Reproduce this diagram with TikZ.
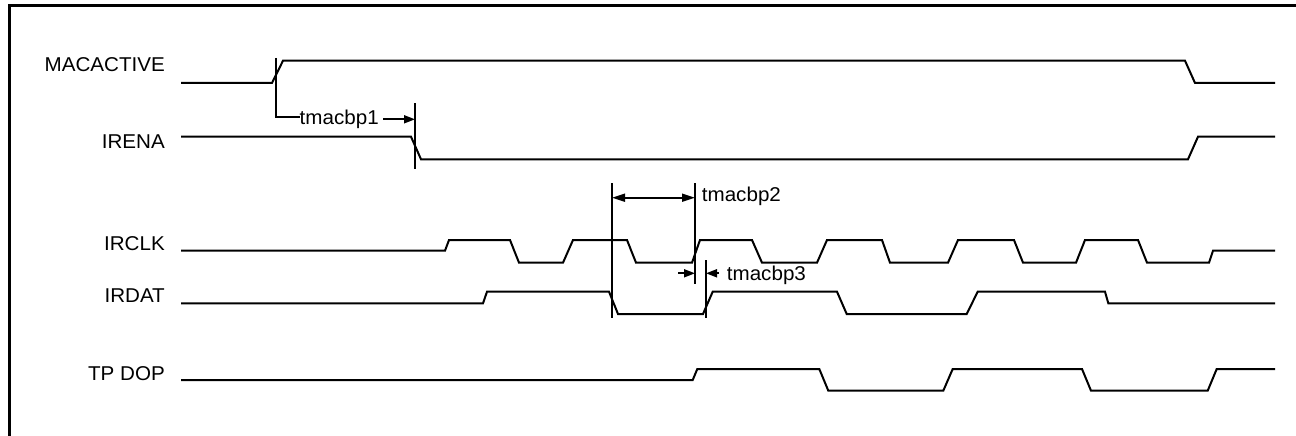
\documentclass[tikz,border=0pt]{standalone}
\usepackage{fontspec}
\setmainfont{Liberation Sans}[FakeStretch=1.03]
\usetikzlibrary{arrows.meta}
\tikzset{
  sig/.style={line width=2pt, line join=miter},
  markline/.style={line width=1.8pt},
  lbl/.style={inner sep=0pt, font=\fontsize{20}{24}\selectfont},
  dimarrow/.style={line width=1.8pt, -{Triangle[length=11pt,width=8pt]}},
  dimboth/.style={line width=1.8pt, {Triangle[length=13pt,width=8pt]}-{Triangle[length=13pt,width=8pt]}},
  frameline/.style={line width=2.8pt}
}
\begin{document}
\begin{tikzpicture}[x=1pt,y=-1pt]
\useasboundingbox (0,0) rectangle (1296,436);
% frame
\draw[frameline] (9.5,436) -- (9.5,5.5) -- (1296,5.5);

% labels
\node[lbl, anchor=base east] (lmac) at (165,71) {MACACTIVE};
\node[lbl, anchor=base east] (lirena) at (165,148.3) {IRENA};
\node[lbl, anchor=base east] (lirclk) at (165,250.7) {IRCLK};
\node[lbl, anchor=base east] (lirdat) at (165,302.7) {IRDAT};
\node[lbl, anchor=base east] (ltp) at (165,380) {TP DOP};

% waveforms
\draw[sig] (181,83) -- (272,83) -- (283,60.7) -- (1185,60.7) -- (1195,83) -- (1275,83);
\draw[sig] (181,136.7) -- (411,136.7) -- (421,159.3) -- (1188,159.3) -- (1198,136.7) -- (1275,136.7);
\draw[sig] (181,250.7) -- (445,250.7) -- (449,240) -- (510,240) -- (519,262.7) -- (563,262.7)
  -- (573,240) -- (627,240) -- (636,262.7) -- (692,262.7) -- (700,240) -- (752,240)
  -- (762,262.7) -- (817,262.7) -- (827,240) -- (882,240) -- (890,262.7) -- (948,262.7)
  -- (958,240) -- (1014,240) -- (1023,262.7) -- (1076,262.7) -- (1085,240) -- (1138,240)
  -- (1147,262.7) -- (1209,262.7) -- (1213,250.7) -- (1275,250.7);
\draw[sig] (181,303.3) -- (483,303.3) -- (487,291.7) -- (609,291.7) -- (618,314) -- (703,314)
  -- (712.7,291.7) -- (837,291.7) -- (846.7,314) -- (966.7,314) -- (977.7,291.7)
  -- (1105,291.7) -- (1108.3,303.3) -- (1275,303.3);
\draw[sig] (181,380) -- (692.7,380) -- (697.3,369) -- (819.3,369) -- (828.3,390.7)
  -- (943.3,390.7) -- (952.7,369) -- (1082,369) -- (1091,390.7) -- (1207.7,390.7)
  -- (1216.7,369) -- (1275,369);

% tmacbp1
\coordinate (m1top) at (276,58);
\coordinate (m1bot) at (276,116.7);
\node[lbl, anchor=base west] (t1) at (299.5,124.3) {tmacbp1};
\draw[markline] (m1top) -- (m1bot) -- (t1.west |- m1bot);
\coordinate (m2top) at (415,103);
\coordinate (m2bot) at (415,169);
\draw[markline] (m2top) -- (m2bot);
\coordinate (a1s) at (383,119.3);
\draw[dimarrow] (a1s) -- (a1s -| m2top);

% tmacbp2
\coordinate (v1top) at (612,183.3);
\coordinate (v1bot) at (612,318);
\coordinate (v2top) at (695,183.3);
\coordinate (v2bot) at (695,284);
\coordinate (v3top) at (706,260);
\coordinate (v3bot) at (706,318);
\draw[markline] (v1top) -- (v1bot);
\draw[markline] (v2top) -- (v2bot);
\draw[markline] (v3top) -- (v3bot);
\coordinate (a2) at (612,197.7);
\draw[dimboth] (a2) -- (a2 -| v2top);
\node[lbl, anchor=base west] (t2) at (701.7,201.7) {tmacbp2};

% tmacbp3
\coordinate (a3l) at (678,273.3);
\coordinate (a3r) at (719,273.3);
\draw[dimarrow] (a3l) -- (a3l -| v2top);
\draw[dimarrow] (a3r) -- (a3r -| v3top);
\node[lbl, anchor=base west] (t3) at (726.7,280.7) {tmacbp3};
\end{tikzpicture}
\end{document}
